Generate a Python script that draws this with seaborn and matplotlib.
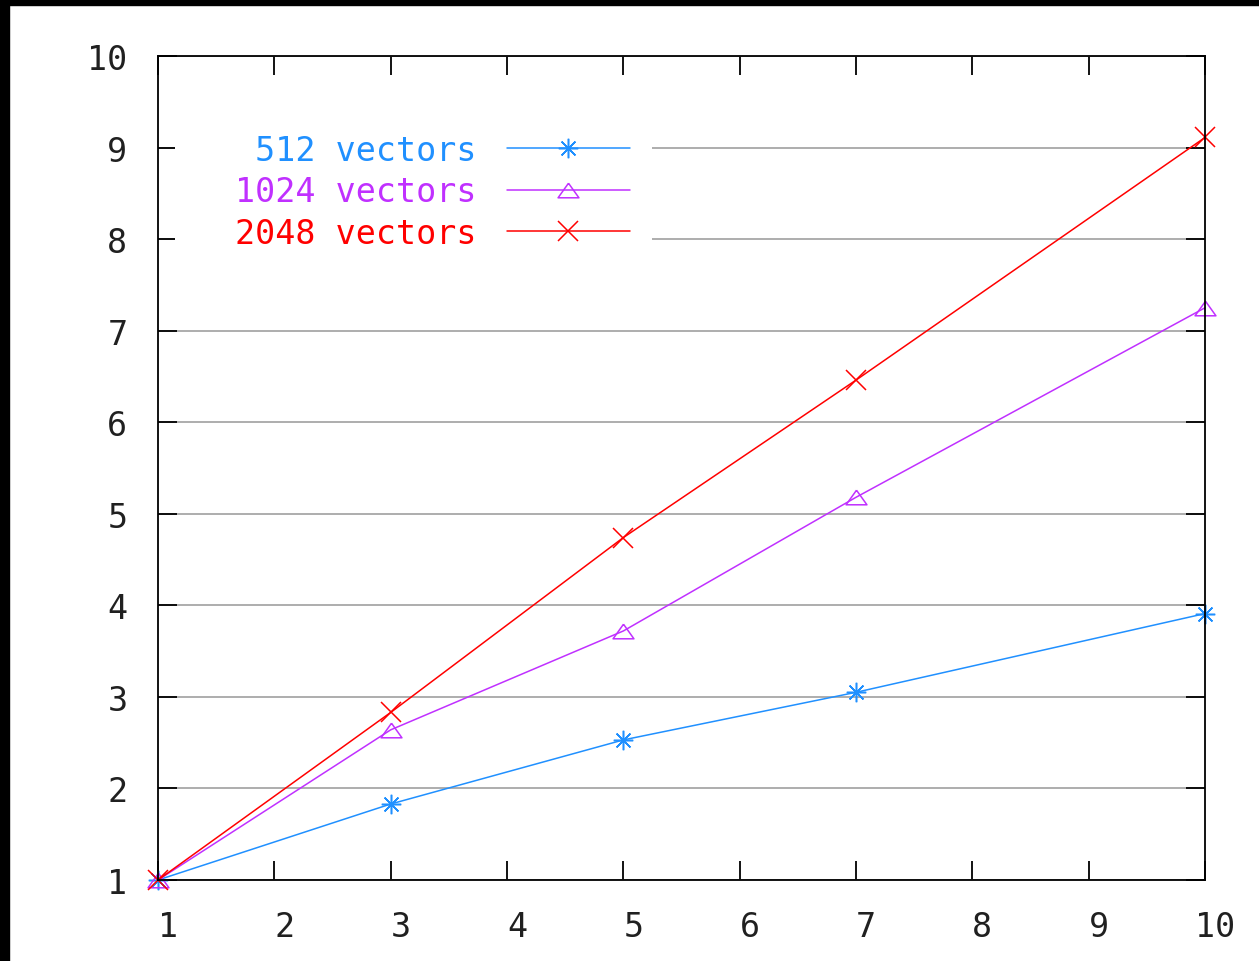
import matplotlib
matplotlib.use("Agg")
import matplotlib.pyplot as plt
import matplotlib.transforms as mtransforms
from matplotlib.patches import Rectangle
import seaborn as sns
import pandas as pd

# ---- data ----
x_values = [1, 3, 5, 7, 10]
series_names = [" 512 vectors", "1024 vectors", "2048 vectors"]
vals_512 = [1.0, 1.83, 2.53, 3.05, 3.91]
vals_1024 = [1.0, 2.64, 3.72, 5.18, 7.25]
vals_2048 = [1.0, 2.83, 4.74, 6.46, 9.11]
x_ticks = [1, 2, 3, 4, 5, 6, 7, 8, 9, 10]
y_ticks = [1, 2, 3, 4, 5, 6, 7, 8, 9, 10]

colors = ["#2090FF", "#C030FF", "#FF0000"]
tri = [(0, 0.7), (-1, -0.7), (1, -0.7), (0, 0.7)]
markers = [(8, 2, 0), tri, "x"]
msizes = [14, 15, 14]

sns.set_theme(style="white")
plt.rcParams["font.family"] = ["DejaVu Sans Mono", "DejaVu Sans"]

fig = plt.figure(figsize=(12.59, 9.62), dpi=100, facecolor="white")
# black border strips (top and left)
fig.patches.append(Rectangle((0, 1 - 6 / 962), 1, 6 / 962, transform=fig.transFigure,
                             color="black", zorder=-1))
fig.patches.append(Rectangle((0, 0), 9 / 1259, 1, transform=fig.transFigure,
                             color="black", zorder=-1))

ax = fig.add_axes([158 / 1259, (962 - 881) / 962, (1205 - 158) / 1259, (881 - 57) / 962])
ax.set_facecolor("white")

all_vals = [vals_512, vals_1024, vals_2048]
for name, vals, c, m, ms in zip(series_names, all_vals, colors, markers, msizes):
    df = pd.DataFrame({"x": x_values, "y": vals})
    sns.lineplot(data=df, x="x", y="y", ax=ax, color=c, linewidth=1.1,
                 marker=m, markersize=ms, markerfacecolor="none",
                 markeredgecolor=c, markeredgewidth=1.1, label=name, clip_on=False)

ax.set_xlim(1, 10)
ax.set_ylim(1, 10)
ax.set_xticks(x_ticks)
ax.set_yticks(y_ticks)
ax.set_xticklabels([str(t) for t in x_ticks])
ax.set_yticklabels([str(t) for t in y_ticks])
ax.set_xlabel("")
ax.set_ylabel("")

ax.yaxis.grid(True, color="#A0A0A0", linewidth=1.2)
ax.xaxis.grid(False)
ax.set_axisbelow(True)

for s in ax.spines.values():
    s.set_color("black")
    s.set_linewidth(1.3)
    s.set_visible(True)

ax.tick_params(axis="both", which="major", direction="in", length=13.5, width=1.3,
               color="black", labelsize=24, labelcolor="#202020",
               top=True, right=True, bottom=True, left=True)
ax.tick_params(axis="y", pad=22)
ax.tick_params(axis="x", pad=21.5)

offset = mtransforms.ScaledTranslation(10 / 100, 0, fig.dpi_scale_trans)
for lab in ax.get_xticklabels():
    lab.set_transform(lab.get_transform() + offset)

# opaque key box (covers grid lines behind the key, like gnuplot)
key_box = Rectangle((175 / 1259, (962 - 256) / 962), (652 - 175) / 1259, (256 - 128) / 962,
                    transform=fig.transFigure, facecolor="white", edgecolor="none",
                    zorder=1)
ax.add_artist(key_box)

handles, labels = ax.get_legend_handles_labels()
leg = ax.legend(handles, labels, loc="upper right",
                bbox_to_anchor=(645 / 1259, (962 - 120) / 962),
                bbox_transform=fig.transFigure, borderaxespad=0,
                markerfirst=False, frameon=False,
                prop={"family": "DejaVu Sans Mono", "size": 24},
                labelcolor="linecolor", handlelength=3.7, handletextpad=0.9,
                labelspacing=0.25, borderpad=0.45)
for t in leg.get_texts():
    t.set_ha("right")

fig.savefig("out.png", dpi=100, facecolor=fig.get_facecolor())
